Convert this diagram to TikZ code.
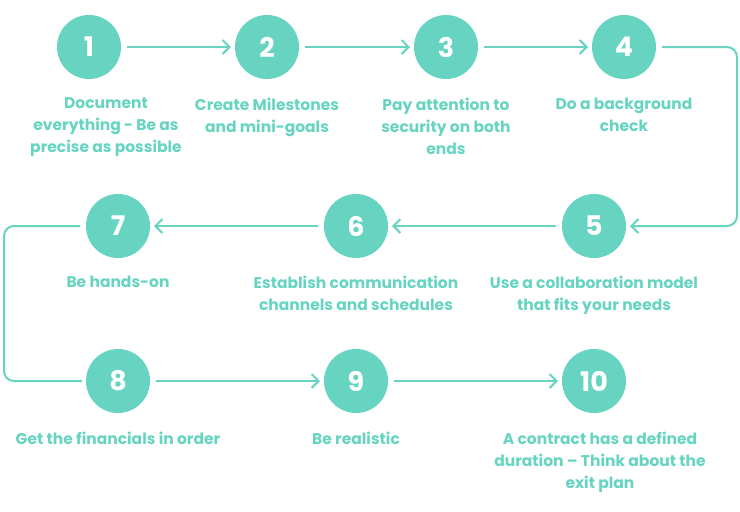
\documentclass[tikz,border=0pt]{standalone}
\usepackage{fontspec}
\setmainfont{Poppins}
\usetikzlibrary{arrows.meta}
\definecolor{mint}{HTML}{66D4C1}
\begin{document}
\begin{tikzpicture}[x=1pt,y=-1pt,semithick,
  >={Straight Barb[length=7pt,width=14pt]}, line width=2pt, shorten >=3pt, shorten <=5pt]
 \tikzstyle{stepdot}=[circle, fill=mint, minimum size=64pt, text=white, font=\fontsize{27}{27}\selectfont\bfseries]
 \tikzstyle{tip}=[text=mint, align=center, font=\fontsize{15.5}{22}\selectfont\bfseries, anchor=north, inner sep=0pt]
 \useasboundingbox (0,0) rectangle (740,512);
 \node[stepdot] (S1) at (89,47) {1};
 \node[stepdot] (S2) at (267,47) {2};
 \node[stepdot] (S3) at (446,47) {3};
 \node[stepdot] (S4) at (624,47) {4};
 \node[stepdot] (S5) at (594,226) {5};
 \node[stepdot] (S6) at (356,226) {6};
 \node[stepdot] (S7) at (118,226) {7};
 \node[stepdot] (S8) at (118,381) {8};
 \node[stepdot] (S9) at (356,381) {9};
 \node[stepdot] (S10) at (594,381) {10};
 \node[tip] (T1) at (106,97) {Document\\everything - Be as\\precise as possible};
 \node[tip] (T2) at (267,97) {Create Milestones\\and mini-goals};
 \node[tip] (T3) at (446,97) {Pay attention to\\security on both\\ends};
 \node[tip] (T4) at (624,97) {Do a background\\check};
 \node[tip] (T5) at (594,275) {Use a collaboration model\\that fits your needs};
 \node[tip] (T6) at (356,275) {Establish communication\\channels and schedules};
 \node[tip] (T7) at (118,275) {Be hands-on};
 \node[tip] (T8) at (118,431) {Get the financials in order};
 \node[tip] (T9) at (356,431) {Be realistic};
 \node[tip] (T10) at (600,431) {A contract has a defined\\duration -- Think about the\\exit plan};
 \coordinate (R1) at (737,47);
 \coordinate (R2) at (737,226);
 \coordinate (L1) at (4,226);
 \coordinate (L2) at (4,381);
 \begin{scope}[draw=mint]
  \draw[->] (S1) -- (S2);
  \draw[->] (S2) -- (S3);
  \draw[->] (S3) -- (S4);
  \draw[->,rounded corners=10pt] (S4) -- (R1) -- (R2) -- (S5);
  \draw[->] (S5) -- (S6);
  \draw[->] (S6) -- (S7);
  \draw[rounded corners=10pt,shorten >=3pt] (S7) -- (L1) -- (L2) -- (S8);
  \draw[->] (S8) -- (S9);
  \draw[->] (S9) -- (S10);
 \end{scope}
\end{tikzpicture}
\end{document}
